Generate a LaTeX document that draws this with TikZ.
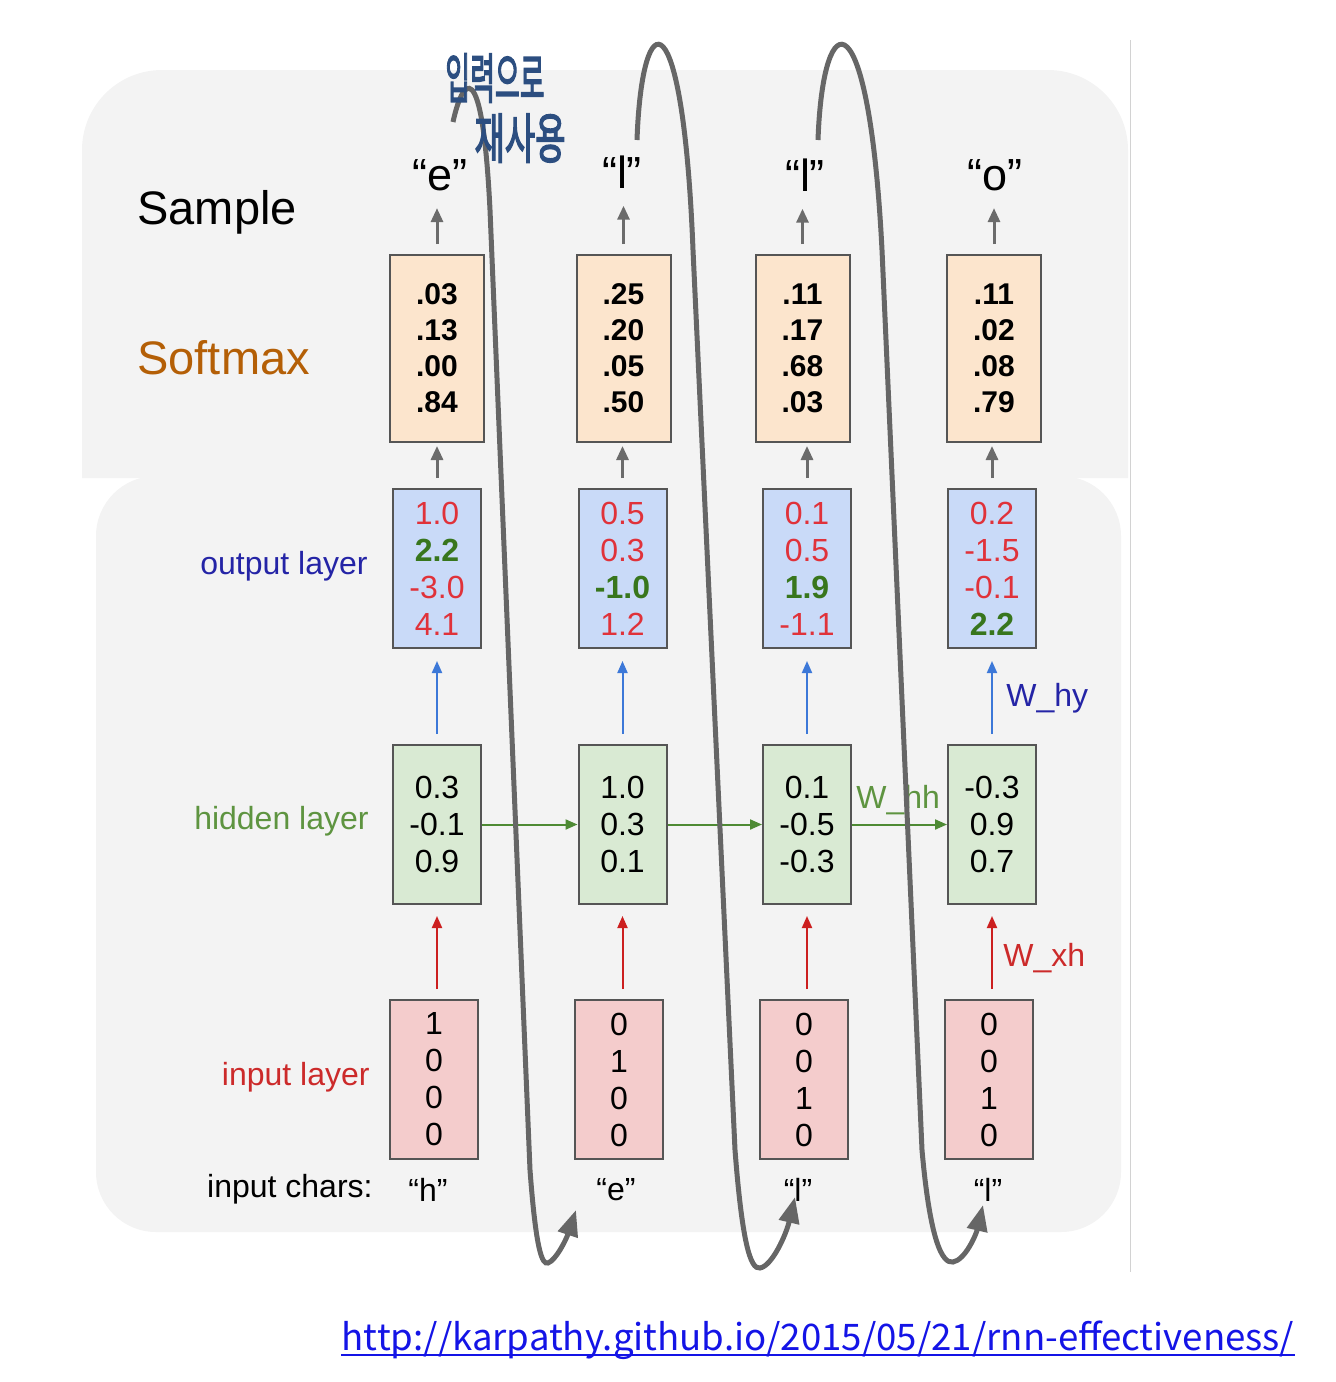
\documentclass[tikz,border=0pt]{standalone}
\usepackage{fontspec}
\setmainfont{Liberation Sans}
\newfontfamily\handfont[FakeBold=3]{Noto Sans CJK KR}
\newfontfamily\urlfont{Noto Sans CJK KR}
\usepackage{tikz}
\usetikzlibrary{
    arrows.meta,
    positioning,
    calc
}
\definecolor{Pgray}{HTML}{F3F3F3}

\newcommand\redv[1]{\textcolor{Nred}{#1}}
\newcommand\grnv[1]{\textbf{\textcolor{Ngreen}{#1}}}

\begin{document}
\begin{tikzpicture}[x=0.5pt, y=-0.5pt,
    cell/.style={draw=Bline, line width=1pt, minimum width=44pt, minimum height=79.5pt,
        inner sep=0pt, align=center, font=\fontsize{16}{18.5}\selectfont},
    smcell/.style={cell, fill=Csm, minimum width=47pt, minimum height=93.5pt,
        font=\fontsize{15}{18}\selectfont\bfseries},
    outcell/.style={cell, fill=Cout},
    hidcell/.style={cell, fill=Chid},
    inpcell/.style={cell, fill=Cinp},
    layer/.style={anchor=east, inner sep=0pt, font=\fontsize{16}{18}\selectfont},
    chr/.style={inner sep=0pt, font=\fontsize{16}{18}\selectfont},
    smp/.style={inner sep=0pt, font=\fontsize{22.5}{26}\selectfont},
    wlab/.style={anchor=west, inner sep=0pt, font=\fontsize{16}{18}\selectfont},
    garrow/.style={draw=Agray, line width=1.5pt, -{Triangle[length=7pt,width=6pt]}},
    barrow/.style={draw=Ablue, line width=1pt, -{Triangle[length=6pt,width=5pt]}},
    rarrow/.style={draw=Ared, line width=1pt, -{Triangle[length=6pt,width=5pt]}},
    harrow/.style={draw=Agreen, line width=1pt, -{Triangle[length=6pt,width=5pt]}},
    loopline/.style={draw=Lgray, line width=2.5pt, -{Triangle[length=13pt,width=10pt]}},
    hand/.style={inner sep=0pt, text=Hblue, font=\handfont\fontsize{15}{15}\selectfont}
]

% Colors (box fills, texts, arrows)
\definecolor{Csm}{HTML}{FCE5CD}    \definecolor{Cout}{HTML}{C9DAF8}
\definecolor{Chid}{HTML}{D9EAD3}   \definecolor{Cinp}{HTML}{F4CCCC}
\definecolor{Bline}{HTML}{555555}  \definecolor{Agray}{HTML}{6B6B6B}
\definecolor{Ablue}{HTML}{3C78D8}  \definecolor{Ared}{HTML}{CC1F1F}
\definecolor{Agreen}{HTML}{4E8A34} \definecolor{Lgray}{HTML}{666666}
\definecolor{Nred}{HTML}{E0323A}   \definecolor{Ngreen}{HTML}{38761D}
\definecolor{Lorange}{HTML}{B45F06} \definecolor{Lblue}{HTML}{2424A6}
\definecolor{Lgreen}{HTML}{5E9440} \definecolor{Lred}{HTML}{CC2a2a}
\definecolor{Hblue}{HTML}{2C4E80}  \definecolor{Ulink}{HTML}{1414E6}

\useasboundingbox (0,0) rectangle (1336,1382);

% Background panels
\fill[Pgray] (82,478) [rounded corners=40pt] -- (82,70) -- (1128,70) [sharp corners] -- (1128,478) -- cycle;
\fill[Pgray, rounded corners=30pt] (96,476) rectangle (1121,1232);
\draw[gray!35, line width=0.5pt] (1130,40) -- (1130,1272);

% Softmax boxes
\node[smcell] (sm1) at (437,348.5)   {.03\\.13\\.00\\.84};
\node[smcell] (sm2) at (623.5,348.5) {.25\\.20\\.05\\.50};
\node[smcell] (sm3) at (802.5,348.5) {.11\\.17\\.68\\.03};
\node[smcell] (sm4) at (994,348.5)   {.11\\.02\\.08\\.79};

% Output layer
\node[outcell] (out1) at (437,568.5)   {\redv{1.0}\\\grnv{2.2}\\\redv{-3.0}\\\redv{4.1}};
\node[outcell] (out2) at (622.5,568.5) {\redv{0.5}\\\redv{0.3}\\\grnv{-1.0}\\\redv{1.2}};
\node[outcell] (out3) at (807,568.5)   {\redv{0.1}\\\redv{0.5}\\\grnv{1.9}\\\redv{-1.1}};
\node[outcell] (out4) at (992,568.5)   {\redv{0.2}\\\redv{-1.5}\\\redv{-0.1}\\\grnv{2.2}};

% Hidden layer
\node[hidcell] (hid1) at (437,824.5)   {0.3\\-0.1\\0.9};
\node[hidcell] (hid2) at (622.5,824.5) {1.0\\0.3\\0.1};
\node[hidcell] (hid3) at (807,824.5)   {0.1\\-0.5\\-0.3};
\node[hidcell] (hid4) at (992,824.5)   {-0.3\\0.9\\0.7};

% Input layer
\node[inpcell] (inp1) at (434,1079.5) {1\\0\\0\\0};
\node[inpcell] (inp2) at (619,1079.5) {0\\1\\0\\0};
\node[inpcell] (inp3) at (804,1079.5) {0\\0\\1\\0};
\node[inpcell] (inp4) at (989,1079.5) {0\\0\\1\\0};

% Sampled and input characters
\node[smp] (smp1) at (440,175) {“e”};
\node[smp] (smp2) at (622,172) {“l”};
\node[smp] (smp3) at (805,175) {“l”};
\node[smp] (smp4) at (995,175) {“o”};
\node[chr] (chr1) at (428,1190) {“h”};
\node[chr] (chr2) at (616,1190) {“e”};
\node[chr] (chr3) at (798,1190) {“l”};
\node[chr] (chr4) at (988,1190) {“l”};

% Row labels
\node[anchor=west, inner sep=0pt, font=\fontsize{23.5}{28}\selectfont] (lsample) at (137,212) {Sample};
\node[anchor=west, inner sep=0pt, font=\fontsize{23.5}{28}\selectfont, text=Lorange] (lsoft) at (137,358) {Softmax};
\node[layer, text=Lblue]  (lout) at (368,566)  {output layer};
\node[layer, text=Lgreen] (lhid) at (369,821)  {hidden layer};
\node[layer, text=Lred]   (linp) at (370,1077) {input layer};
\node[layer]              (lchr) at (373,1189) {input chars:};

% Arrows softmax -> sample
\draw[garrow, shorten <=5pt, shorten >=8.5pt] (sm1.north) -- (sm1.north |- smp1.south);
\draw[garrow, shorten <=5pt, shorten >=8.5pt] (sm2.north) -- (sm2.north |- smp2.south);
\draw[garrow, shorten <=5pt, shorten >=8.5pt] (sm3.north) -- (sm3.north |- smp3.south);
\draw[garrow, shorten <=5pt, shorten >=8.5pt] (sm4.north) -- (sm4.north |- smp4.south);

% Arrows output -> softmax
\draw[garrow, shorten <=5pt, shorten >=1.5pt] (out1.north) -- (out1.north |- sm1.south);
\draw[garrow, shorten <=5pt, shorten >=1.5pt] (out2.north) -- (out2.north |- sm2.south);
\draw[garrow, shorten <=5pt, shorten >=1.5pt] (out3.north) -- (out3.north |- sm3.south);
\draw[garrow, shorten <=5pt, shorten >=1.5pt] (out4.north) -- (out4.north |- sm4.south);

% Arrows hidden -> output (W_hy)
\draw[barrow, shorten <=5pt, shorten >=6pt] (hid1.north) -- (out1.south);
\draw[barrow, shorten <=5pt, shorten >=6pt] (hid2.north) -- (out2.south);
\draw[barrow, shorten <=5pt, shorten >=6pt] (hid3.north) -- (out3.south);
\draw[barrow, shorten <=5pt, shorten >=6pt] (hid4.north) -- (out4.south);

% Arrows input -> hidden (W_xh)
\draw[rarrow, shorten <=5pt, shorten >=5.5pt] (hid1.south |- inp1.north) -- (hid1.south);
\draw[rarrow, shorten <=5pt, shorten >=5.5pt] (hid2.south |- inp2.north) -- (hid2.south);
\draw[rarrow, shorten <=5pt, shorten >=5.5pt] (hid3.south |- inp3.north) -- (hid3.south);
\draw[rarrow, shorten <=5pt, shorten >=5.5pt] (hid4.south |- inp4.north) -- (hid4.south);

% Arrows hidden -> hidden (W_hh)
\draw[harrow] (hid1.east) -- (hid2.west);
\draw[harrow] (hid2.east) -- (hid3.west);
\draw[harrow] (hid3.east) -- (hid4.west);

% Weight labels
\node[wlab, text=Lblue]  (why) at (1006,698) {W\_hy};
\node[wlab, text=Lred]   (wxh) at (1003,958) {W\_xh};
\node[wlab, text=Lgreen] (whh) at (856,800)  {W\_hh};

% Feedback loops: sample -> next input
\draw[loopline] (453,122) .. controls (462,80) and (482,49) .. (490,210)
    -- (530,1170) .. controls (536,1250) and (542,1265) .. (548,1263)
    .. controls (556,1260) and (566,1240) .. (576,1210);
\draw[loopline] (637,140) .. controls (642,0) and (683,-5) .. (693,250)
    -- (735,1150) .. controls (742,1240) and (750,1270) .. (760,1268)
    .. controls (772,1266) and (786,1235) .. (795,1197);
\draw[loopline] (818,140) .. controls (823,0) and (869,-5) .. (882,250)
    -- (922,1150) .. controls (930,1240) and (942,1264) .. (953,1262)
    .. controls (965,1260) and (976,1235) .. (983,1205);

% Handwritten note
\node[hand] (note1) at (495,78)  {\scalebox{0.9}[1.8]{입력으로}};
\node[hand] (note2) at (520,138) {\scalebox{1.1}[1.8]{재사용}};

% Source link
\node[anchor=base, inner sep=0pt, text=Ulink, font=\urlfont\fontsize{18.3}{21}\selectfont] (url) at (818,1350)
    {http://karpathy.github.io/2015/05/21/rnn-effectiveness/};
\draw[Ulink, line width=1pt] ([yshift=-2.5pt]url.base west) -- ([yshift=-2.5pt]url.base east);

\end{tikzpicture}
\end{document}
